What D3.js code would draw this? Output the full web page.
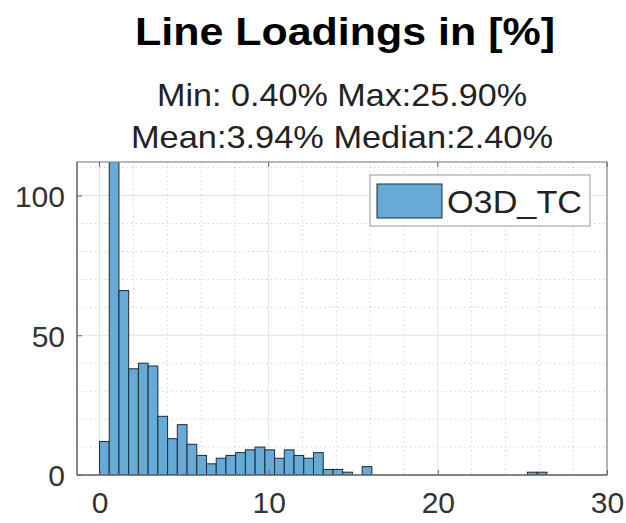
<!DOCTYPE html>
<html><head><meta charset="utf-8">
<script src="https://cdn.jsdelivr.net/npm/d3@7"></script>
<style>body{margin:0;background:#fff}svg{display:block;font-family:"Liberation Sans",Arial,sans-serif}</style>
</head><body><svg id="c" width="626" height="523"></svg>
<script>
const titleText = "Line Loadings in [%]";
const subtitleLines = ["Min: 0.40% Max:25.90%", "Mean:3.94% Median:2.40%"];
const seriesName = "O3D_TC";
const binStart = 0;
const binWidth = 0.575;
const counts = [12,118,66,38,40,39,21,13,18,11,7,4,6,7,8,9,10,9,6,9,7,6,8,2,2,1,0,3,0,0,0,0,0,0,0,0,0,0,0,0,0,0,0,0,1,1,0,0,0,0];
const xTicks = [0,10,20,30];
const yTicks = [0,50,100];
const xMinor = [-0,2,4,6,8,12,14,16,18,22,24,26,28];
const yMinor = [10,20,30,40,60,70,80,90,110];

const svg = d3.select("#c");
const L=77,R=607,T=162,B=475;
const x = d3.scaleLinear().domain([-1.33,30]).range([L,R]);
const y = d3.scaleLinear().domain([0,112]).range([B,T]);

svg.append("defs").append("clipPath").attr("id","clip").append("rect")
  .attr("x",L).attr("y",T).attr("width",R-L).attr("height",B-T);

const g = svg.append("g");
// minor grid
g.selectAll(".mx").data(xMinor.filter(v=>!xTicks.includes(v))).enter().append("line")
  .attr("x1",d=>x(d)).attr("x2",d=>x(d)).attr("y1",T).attr("y2",B)
  .attr("stroke","#d4d4d4").attr("stroke-dasharray","1.5,3").attr("stroke-width",1);
g.selectAll(".my").data(yMinor).enter().append("line")
  .attr("y1",d=>y(d)).attr("y2",d=>y(d)).attr("x1",L).attr("x2",R)
  .attr("stroke","#d4d4d4").attr("stroke-dasharray","1.5,3").attr("stroke-width",1);
// major grid
g.selectAll(".gx").data(xTicks).enter().append("line")
  .attr("x1",d=>x(d)).attr("x2",d=>x(d)).attr("y1",T).attr("y2",B)
  .attr("stroke","#e4e4e4").attr("stroke-width",1);
g.selectAll(".gy").data(yTicks).enter().append("line")
  .attr("y1",d=>y(d)).attr("y2",d=>y(d)).attr("x1",L).attr("x2",R)
  .attr("stroke","#e4e4e4").attr("stroke-width",1);

// bars
const bins = counts.map((c,i)=>({x0:binStart+i*binWidth,x1:binStart+(i+1)*binWidth,c}));
svg.append("g").attr("clip-path","url(#clip)").selectAll("rect").data(bins).enter().append("rect")
  .attr("x",d=>x(d.x0)).attr("width",d=>x(d.x1)-x(d.x0))
  .attr("y",d=>y(d.c)).attr("height",d=>Math.max(0,y(0)-y(d.c)))
  .attr("fill","rgb(102,170,215)").attr("stroke","#1e2a33").attr("stroke-width",1);

// frame
svg.append("rect").attr("x",L).attr("y",T).attr("width",R-L).attr("height",B-T)
  .attr("fill","none").attr("stroke","#8a8a8a").attr("stroke-width",1.2);
svg.append("line").attr("x1",L).attr("x2",R).attr("y1",B).attr("y2",B).attr("stroke","#555").attr("stroke-width",1.2);
svg.append("line").attr("x1",L).attr("x2",L).attr("y1",T).attr("y2",B).attr("stroke","#666").attr("stroke-width",1.2);

// axes via d3
const xa = svg.append("g").attr("transform",`translate(0,${B})`)
  .call(d3.axisBottom(x).tickValues(xTicks).tickSize(-5).tickPadding(16).tickFormat(d3.format("d")));
const ya = svg.append("g").attr("transform",`translate(${L},0)`)
  .call(d3.axisLeft(y).tickValues(yTicks).tickSize(-5).tickPadding(12).tickFormat(d3.format("d")));
[xa,ya].forEach(a=>{
  a.select(".domain").remove();
  a.selectAll(".tick line").attr("stroke","#666");
  a.selectAll("text").attr("font-size",30).attr("fill","#333").attr("font-family","Liberation Sans, Arial, sans-serif");
});
xa.selectAll("text").attr("dy","0.72em");
ya.selectAll("text").attr("dy","0.36em");
// top ticks
svg.append("g").selectAll("line").data(xTicks).enter().append("line")
  .attr("x1",d=>x(d)).attr("x2",d=>x(d)).attr("y1",T).attr("y2",T+5).attr("stroke","#666");

// title
svg.append("text").attr("x",345).attr("y",45).attr("text-anchor","middle")
  .attr("font-size",39).attr("font-weight","bold").attr("fill","#000")
  .attr("textLength",420).attr("lengthAdjust","spacingAndGlyphs").text(titleText);
svg.selectAll(".sub").data(subtitleLines).enter().append("text")
  .attr("x",342).attr("y",(d,i)=>106+i*42).attr("text-anchor","middle")
  .attr("font-size",32).attr("fill","#222")
  .attr("textLength",(d,i)=>i===0?370:422).attr("lengthAdjust","spacingAndGlyphs").text(d=>d);

// legend
const lg = svg.append("g");
lg.append("rect").attr("x",370).attr("y",175).attr("width",220).attr("height",51)
  .attr("fill","#fff").attr("stroke","#999").attr("stroke-width",1);
lg.append("rect").attr("x",377).attr("y",184).attr("width",65).attr("height",34)
  .attr("fill","rgb(102,170,215)").attr("stroke","#1e2a33").attr("stroke-width",1);
lg.append("text").attr("x",447).attr("y",213).attr("font-size",32).attr("fill","#222")
  .attr("textLength",135).attr("lengthAdjust","spacingAndGlyphs").text(seriesName);
</script></body></html>
